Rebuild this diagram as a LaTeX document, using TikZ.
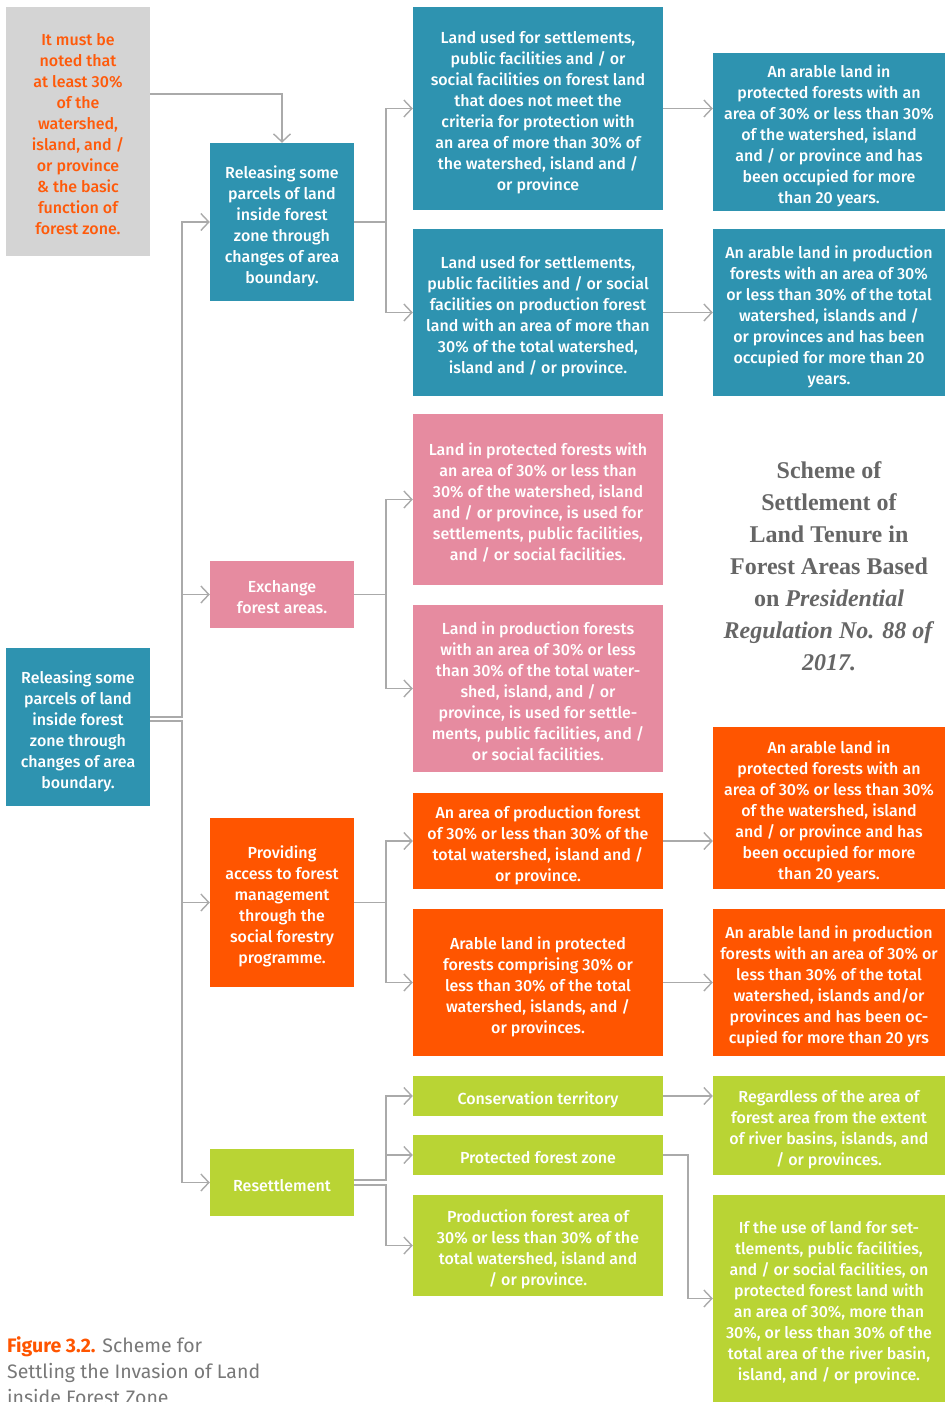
\documentclass[tikz,border=0pt]{standalone}
\usepackage{fontspec}
\setmainfont{Fira Sans}[UprightFont={* Medium}, BoldFont={* Bold}]
\newfontfamily\captionfont{Fira Sans}
\newfontfamily\titlefont{Liberation Serif}
\usetikzlibrary{arrows.meta,calc}
\definecolor{tealbg}{RGB}{46,147,176}
\definecolor{pinkbg}{RGB}{230,139,160}
\definecolor{orangebg}{RGB}{255,85,0}
\definecolor{greenbg}{RGB}{185,212,52}
\definecolor{notebg}{RGB}{212,212,212}
\definecolor{notetext}{RGB}{255,90,10}
\definecolor{linegray}{RGB}{170,170,170}
\definecolor{titlegray}{RGB}{102,102,102}
\definecolor{capgray}{RGB}{120,120,120}
% centred block of box text, with a little extra room above the first line
\newcommand{\bx}[1]{\begin{tabular}{@{}c@{}}\rule{0pt}{24pt}#1\end{tabular}}
\begin{document}
\begin{tikzpicture}[x=1pt,y=-1pt,
  box/.style={inner sep=0pt, text=white,
    font={\fontsize{16}{21}\selectfont}},
  colA/.style={box, minimum width=144pt},
  colB/.style={box, minimum width=250pt},
  colC/.style={box, minimum width=232pt},
  tealbox/.style={fill=tealbg},
  pinkbox/.style={fill=pinkbg},
  orangebox/.style={fill=orangebg},
  greenbox/.style={fill=greenbg},
  conn/.style={draw=linegray, line width=1.4pt,
    -{Straight Barb[length=8pt,width=17pt,line width=1.4pt]}}]
\useasboundingbox (0,0) rectangle (945,1402);

% spine positions for the branching connectors
\coordinate (spineL) at (182,0);
\coordinate (spineA) at (386,0);
\coordinate (spineB) at (688,0);

% note box
\node[colA, fill=notebg, text=notetext, minimum height=249pt] (N) at (78,131.5)
  {\bx{It must be\\noted that\\at least 30\%\\of the\\watershed,\\island, and /\\or province\\\& the basic\\function of\\forest zone.}};

% root
\node[colA, tealbox, minimum height=158pt] (L) at (78,727)
  {\bx{Releasing some\\parcels of land\\inside forest\\zone through\\changes of area\\boundary.}};

% first level
\node[colA, tealbox, minimum height=158pt] (A1) at (282,222)
  {\bx{Releasing some\\parcels of land\\inside forest\\zone through\\changes of area\\boundary.}};
\node[colA, pinkbox, minimum height=67pt] (A2) at (282,594.5)
  {\bx{Exchange\\forest areas.}};
\node[colA, orangebox, minimum height=169pt] (A3) at (282,902.5)
  {\bx{Providing\\access to forest\\management\\through the\\social forestry\\programme.}};
\node[colA, greenbox, minimum height=67pt] (A4) at (282,1182.5)
  {\bx{Resettlement}};

% second level
\node[colB, tealbox, minimum height=203pt] (B1) at (538,108.5)
  {\bx{Land used for settlements,\\public facilities and / or\\social facilities on forest land\\that does not meet the\\criteria for protection with\\an area of more than 30\% of\\the watershed, island and /\\or province}};
\node[colB, tealbox, minimum height=167pt] (B2) at (538,312.5)
  {\bx{Land used for settlements,\\public facilities and / or social\\facilities on production forest\\land with an area of more than\\30\% of the total watershed,\\island and / or province.}};
\node[colB, pinkbox, minimum height=171pt] (B3) at (538,499.5)
  {\bx{Land in protected forests with\\an area of 30\% or less than\\30\% of the watershed, island\\and / or province, is used for\\settlements, public facilities,\\and / or social facilities.}};
\node[colB, pinkbox, minimum height=167pt] (B4) at (538,688.5)
  {\bx{Land in production forests\\with an area of 30\% or less\\than 30\% of the total water-\\shed, island, and / or\\province, is used for settle-\\ments, public facilities, and /\\or social facilities.}};
\node[colB, orangebox, minimum height=96pt] (B5) at (538,841)
  {\bx{An area of production forest\\of 30\% or less than 30\% of the\\total watershed, island and /\\or province.}};
\node[colB, orangebox, minimum height=147pt] (B6) at (538,982.5)
  {\bx{Arable land in protected\\forests comprising 30\% or\\less than 30\% of the total\\watershed, islands, and /\\or provinces.}};
\node[colB, greenbox, minimum height=40pt] (B7) at (538,1096)
  {\bx{Conservation territory}};
\node[colB, greenbox, minimum height=40pt] (B8) at (538,1155)
  {\bx{Protected forest zone}};
\node[colB, greenbox, minimum height=101pt] (B9) at (538,1245.5)
  {\bx{Production forest area of\\30\% or less than 30\% of the\\total watershed, island and\\/ or province.}};

% third level
\node[colC, tealbox, minimum height=158pt] (C1) at (829,132)
  {\bx{An arable land in\\protected forests with an\\area of 30\% or less than 30\%\\of the watershed, island\\and / or province and has\\been occupied for more\\than 20 years.}};
\node[colC, tealbox, minimum height=167pt] (C2) at (829,312.5)
  {\bx{An arable land in production\\forests with an area of 30\%\\or less than 30\% of the total\\watershed, islands and /\\or provinces and has been\\occupied for more than 20\\years.}};
\node[colC, orangebox, minimum height=162pt] (C3) at (829,808)
  {\bx{An arable land in\\protected forests with an\\area of 30\% or less than 30\%\\of the watershed, island\\and / or province and has\\been occupied for more\\than 20 years.}};
\node[colC, orangebox, minimum height=147pt] (C4) at (829,982.5)
  {\bx{An arable land in production\\forests with an area of 30\% or\\less than 30\% of the total\\watershed, islands and/or\\provinces and has been oc-\\cupied for more than 20 yrs}};
\node[colC, greenbox, minimum height=99pt] (C5) at (829,1125.5)
  {\bx{Regardless of the area of\\forest area from the extent\\of river basins, islands, and\\/ or provinces.}};
\node[colC, greenbox, minimum height=207pt] (C6) at (829,1298.5)
  {\bx{If the use of land for set-\\tlements, public facilities,\\and / or social facilities, on\\protected forest land with\\an area of 30\%, more than\\30\%, or less than 30\% of the\\total area of the river basin,\\island, and / or province.}};

% title
\node[align=center, text=titlegray, inner sep=0pt,
  font={\titlefont\bfseries\fontsize{24}{32}\selectfont}] (T) at (829,566)
  {Scheme of\\Settlement of\\Land Tenure in\\Forest Areas Based\\on \textit{Presidential}\\\textit{Regulation No. 88 of}\\\textit{2017.}};

% caption
\node[anchor=north west, align=left, text=capgray, inner sep=0pt,
  font={\captionfont\fontsize{19.5}{26}\selectfont}] (cap) at (7,1336)
  {\textcolor{orangebg}{\bfseries Figure 3.2.} Scheme for\\Settling the Invasion of Land\\inside Forest Zone};

% connectors
\draw[conn] (N.east |- 0,94) -| (A1.north);

\draw[conn] (L.east |- 0,717) -| (spineL |- A1.west) -- (A1.west);
\draw[conn] (spineL |- A2.west) -- (A2.west);
\draw[conn] (L.east |- 0,721) -| (spineL |- A4.west) -- (A4.west);
\draw[conn] (spineL |- A3.west) -- (A3.west);

\draw[conn] (A1.east) -| (spineA |- B1.west) -- (B1.west);
\draw[conn] (spineA |- A1.east) |- (B2.west);
\draw[conn] (A2.east) -| (spineA |- B3.west) -- (B3.west);
\draw[conn] (spineA |- A2.east) |- (B4.west);
\draw[conn] (A3.east) -| (spineA |- B5.west) -- (B5.west);
\draw[conn] (spineA |- A3.east) |- (B6.west);
\draw[conn] (A4.east |- 0,1180) -| (spineA |- B7.west) -- (B7.west);
\draw[conn] (spineA |- B8.west) -- (B8.west);
\draw[conn] (A4.east |- 0,1185) -| (spineA |- B9.west) -- (B9.west);

\draw[conn] (B1.east) -- (B1.east -| C1.west);
\draw[conn] (B2.east) -- (B2.east -| C2.west);
\draw[conn] (B5.east) -- (B5.east -| C3.west);
\draw[conn] (B6.east) -- (B6.east -| C4.west);
\draw[conn] (B7.east) -- (B7.east -| C5.west);
\draw[conn] (B8.east) -| (spineB |- C6.west) -- (C6.west);
\end{tikzpicture}
\end{document}
